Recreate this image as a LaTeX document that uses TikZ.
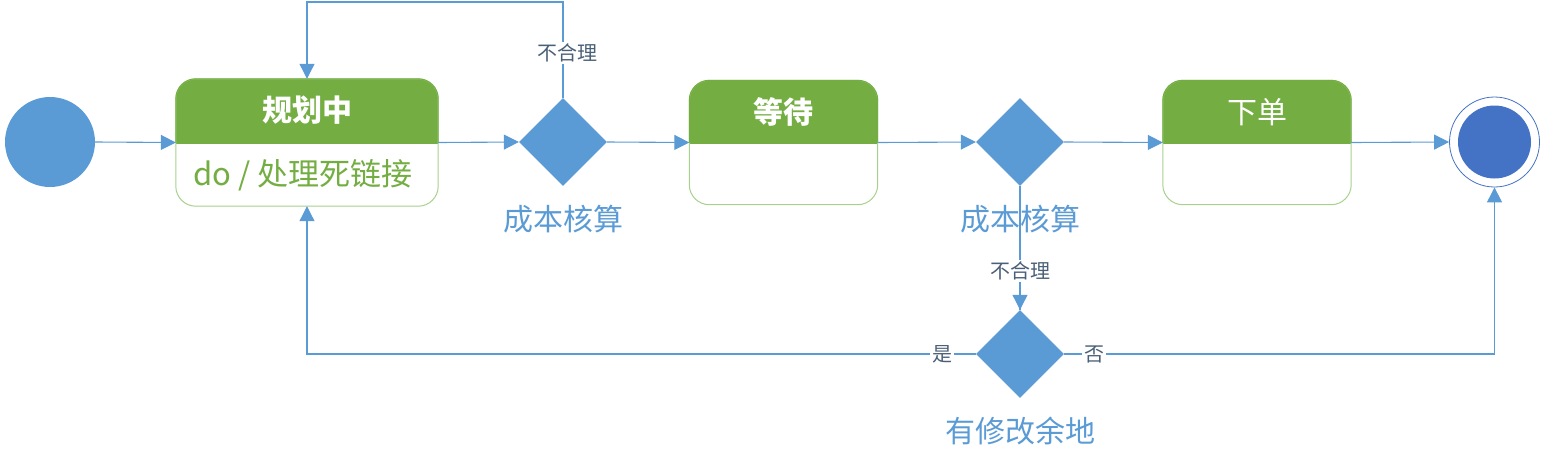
\documentclass[tikz,border=0pt]{standalone}
\usepackage{fontspec}
\newfontfamily\cjk{Noto Sans CJK SC}
\usetikzlibrary{shapes.geometric,arrows.meta}
\definecolor{ublue}{HTML}{5B9BD5}
\definecolor{dblue}{HTML}{4472C4}
\definecolor{ugreen}{HTML}{74AE42}
\definecolor{lgreen}{HTML}{A9D18E}
\definecolor{lblgray}{HTML}{4A5F78}
\tikzset{
  flow/.style={draw=ublue, line width=1.1pt, -{Triangle[length=15pt,width=15pt]}},
  plain/.style={draw=ublue, line width=1.1pt},
  statebox/.style={rectangle, rounded corners=20pt, inner sep=0pt},
  decision/.style={diamond, fill=ublue, minimum width=88pt, minimum height=88pt, inner sep=0pt},
  hdrtext/.style={font=\cjk\bfseries\fontsize{30}{34}\selectfont, text=white},
  dectext/.style={font=\cjk\fontsize{30}{34}\selectfont, text=ublue},
  edgelbl/.style={font=\cjk\fontsize{20}{24}\selectfont, text=lblgray, fill=white, inner sep=2pt},
}
\newcommand{\mkstate}[5]{% name, x-center, y-top, width, height
  \node[statebox, minimum width=#4pt, minimum height=#5pt] (#1) at (#2,{#3+#5/2}) {};
  \begin{scope}
    \clip[rounded corners=20pt] (#1.south west) rectangle (#1.north east);
    \fill[white] (#1.south west) rectangle (#1.north east);
    \fill[ugreen] (#1.north west) rectangle ([yshift=-1pt]#1.east);
  \end{scope}
  \draw[lgreen, line width=1pt, rounded corners=20pt] (#1.south west) rectangle (#1.north east);
  \draw[ugreen, line width=1pt, rounded corners=20pt] (#1.east) -- (#1.north east) -- (#1.north west) -- (#1.west);
}
\begin{document}
\begin{tikzpicture}[x=1pt,y=-1pt]
\useasboundingbox (0,0) rectangle (1545,464);
% start
\node[circle, fill=ublue, minimum size=90pt, inner sep=0pt] (start) at (50,142) {};
% states
\mkstate{s1}{307}{79}{262}{127}
\mkstate{s2}{783.5}{80.5}{188}{124}
\mkstate{s3}{1257}{80.5}{188}{124}
\node[hdrtext] (h1) at (307,110) {规划中};
\node[font=\cjk\fontsize{31}{34}\selectfont, text=ugreen] (d1) at (303,175) {do / 处理死链接};
\node[hdrtext] (h2) at (783.5,112) {等待};
\node[hdrtext, font=\cjk\fontsize{30}{34}\selectfont] (h3) at (1257,112) {下单};
% decisions
\node[decision] (c1) at (563,142) {};
\node[decision] (c2) at (1020,142) {};
\node[decision] (c3) at (1020,354) {};
\node[dectext] (c1l) at (563,219) {成本核算};
% end
\node[circle, draw=dblue, line width=0.8pt, minimum size=90pt, inner sep=0pt] (end) at (1494.5,142) {};
\node[circle, fill=dblue, minimum size=73pt, inner sep=0pt] (endin) at (end.center) {};
% connectors
\draw[flow] (start.east) -- (s1.west);
\draw[flow] (s1.east) -- (c1.west);
\draw[flow] (c1.east) -- (s2.west);
\draw[flow] (s2.east) -- (c2.west);
\draw[flow] (c2.east) -- (s3.west);
\draw[flow] (s3.east) -- (end.west);
\coordinate (lt1) at (563,2);
\coordinate (lt2) at (307,2);
\draw[flow] (c1.north) -- (lt1) -- (lt2) -- (s1.north);
\node[edgelbl] (l1) at (567,53) {不合理};
\draw[flow] (c2.south) -- (c3.north);
\node[dectext] (c2l) at (1020,219) {成本核算};
\draw[plain] (c2.south) -- (c3.north);
\node[edgelbl] (l2) at (1020,271) {不合理};
\coordinate (bl) at (307,354);
\coordinate (br) at (1494.5,354);
\draw[flow] (c3.west) -- (bl) -- (s1.south);
\draw[flow] (c3.east) -- (br) -- (end.south);
\node[edgelbl] (yes) at (942,354) {是};
\node[edgelbl] (no) at (1094,354) {否};
\node[dectext] (c3l) at (1020,431) {有修改余地};
\end{tikzpicture}
\end{document}
